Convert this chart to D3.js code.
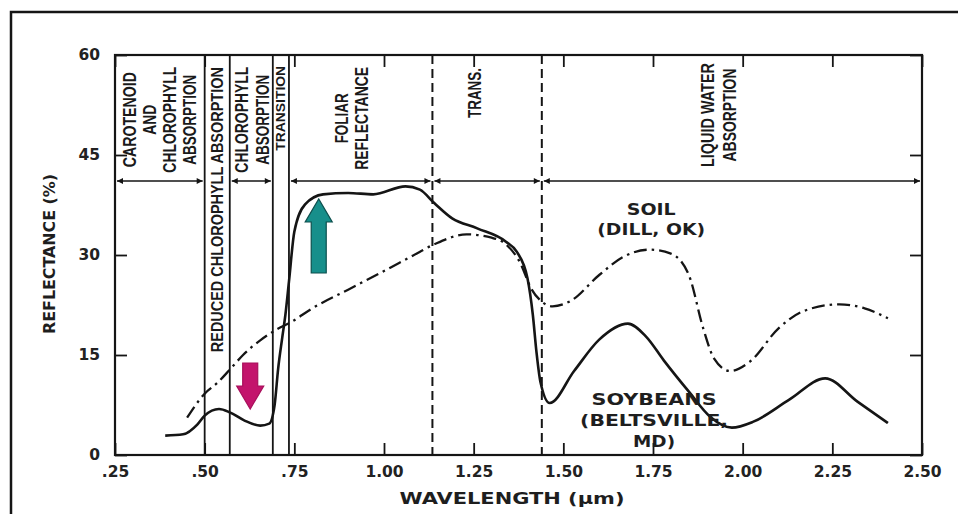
<!DOCTYPE html>
<html>
<head>
<meta charset="utf-8">
<script src="https://d3js.org/d3.v7.min.js"></script>
<style>
  body { margin: 0; background: #fff; }
  svg { display: block; }
</style>
</head>
<body>
<div id="chart"></div>
<script>
// values
const wavelengthTicks = [0.25, 0.50, 0.75, 1.00, 1.25, 1.50, 1.75, 2.00, 2.25, 2.50];
const wavelengthLabels = [".25", ".50", ".75", "1.00", "1.25", "1.50", "1.75", "2.00", "2.25", "2.50"];
const reflectanceTicks = [0, 15, 30, 45, 60];

// soybeans (Beltsville, MD) - [wavelength um, reflectance %]
const soybean = [
  [0.39, 2.9], [0.44, 3.1], [0.48, 4.6], [0.50, 5.9], [0.54, 6.9], [0.57, 6.4],
  [0.61, 5.2], [0.655, 4.4], [0.68, 4.7], [0.695, 7.5], [0.705, 13], [0.716, 17.5],
  [0.725, 21], [0.735, 26], [0.75, 33.5], [0.78, 37.6], [0.83, 39.1], [0.90, 39.3],
  [0.97, 39.1], [1.06, 40.3], [1.10, 39.8], [1.14, 37.8], [1.19, 35.5], [1.26, 34.0],
  [1.34, 32.0], [1.37, 30.5], [1.40, 26.5], [1.415, 21], [1.425, 15.5], [1.436, 11],
  [1.462, 7.8], [1.53, 12.6], [1.60, 17.3], [1.68, 19.7], [1.73, 17.8], [1.78, 14.2],
  [1.85, 9.5], [1.91, 5.7], [1.97, 4.1], [2.03, 5.0], [2.13, 8.3], [2.23, 11.5],
  [2.32, 8.0], [2.405, 4.8]
];

// soil (Dill, OK)
const soil = [
  [0.451, 5.6], [0.50, 9.2], [0.535, 10.8], [0.57, 12.8], [0.607, 15.0], [0.655, 17.2],
  [0.70, 18.8], [0.74, 19.9], [0.80, 22.0], [0.90, 24.8], [1.00, 27.6], [1.08, 29.9],
  [1.14, 31.6], [1.23, 33.1], [1.30, 32.6], [1.34, 31.6], [1.38, 28.8], [1.41, 25.0],
  [1.44, 23.0], [1.47, 22.3], [1.52, 23.1], [1.60, 27.0], [1.67, 29.8], [1.74, 30.8],
  [1.80, 30.2], [1.85, 27.0], [1.89, 19.0], [1.92, 14.5], [1.965, 12.6], [2.02, 14.0],
  [2.10, 19.0], [2.17, 21.6], [2.27, 22.6], [2.34, 22.0], [2.405, 20.5]
];

// spectral regions
const solidBounds = [0.50, 0.57, 0.69, 0.735];
const dashedBounds = [1.135, 1.44];
const spanArrows = [[0.25, 0.50], [0.57, 0.69], [0.735, 1.135], [1.135, 1.44], [1.44, 2.50]];
const spanArrowLevel = 41.1;
const regionTexts = [
  ["CAROTENOID", "AND", "CHLOROPHYLL", "ABSORPTION"],
  ["REDUCED CHLOROPHYLL ABSORPTION"],
  ["CHLOROPHYLL", "ABSORPTION"],
  ["TRANSITION"],
  ["FOLIAR", "REFLECTANCE"],
  ["TRANS."],
  ["LIQUID WATER", "ABSORPTION"]
];
const seriesNames = [["SOIL", "(DILL, OK)"], ["SOYBEANS", "(BELTSVILLE,", "MD)"]];

// coloured arrows: [wavelength, from %, to %]
const downArrow = [0.627, 13.8, 6.9];
const upArrow = [0.818, 27.3, 38.4];

// ---- layout ----
const W = 958, H = 514;
const margin = { top: 55, right: 36, bottom: 59, left: 115 };
const width = W - margin.left - margin.right;
const height = H - margin.top - margin.bottom;

const x = d3.scaleLinear().domain([0.25, 2.50]).range([0, width]);
const y = d3.scaleLinear().domain([0, 60]).range([height, 0]);

const ink = "#151515";
const tickFont = "'DejaVu Sans', Verdana, sans-serif";
const narrowFont = "'Liberation Sans Narrow', 'Liberation Sans', Arial, sans-serif";

const svg = d3.select("#chart").append("svg")
  .attr("width", W)
  .attr("height", H);

// outer frame (top and left edges only)
svg.append("path")
  .attr("d", `M11,${H} V12 H${W}`)
  .attr("fill", "none")
  .attr("stroke", ink)
  .attr("stroke-width", 2.5);

svg.append("defs").append("marker")
  .attr("id", "head")
  .attr("viewBox", "0 0 10 10")
  .attr("refX", 10).attr("refY", 5)
  .attr("markerWidth", 9).attr("markerHeight", 6)
  .attr("markerUnits", "userSpaceOnUse")
  .attr("orient", "auto-start-reverse")
  .append("path")
  .attr("d", "M0,0 L10,5 L0,10 Z")
  .attr("fill", ink);

const g = svg.append("g")
  .attr("transform", `translate(${margin.left},${margin.top})`);

// axes with inward ticks
g.append("g")
  .attr("transform", `translate(0,${height})`)
  .call(d3.axisBottom(x).tickValues(wavelengthTicks)
    .tickFormat((d, i) => wavelengthLabels[i]).tickSize(-12).tickSizeOuter(0).tickPadding(11))
  .call(a => a.select(".domain").remove());

g.append("g")
  .call(d3.axisTop(x).tickValues(wavelengthTicks).tickFormat("").tickSize(-12).tickSizeOuter(0))
  .call(a => a.select(".domain").remove());

g.append("g")
  .call(d3.axisLeft(y).tickValues(reflectanceTicks).tickSize(-12).tickSizeOuter(0).tickPadding(15))
  .call(a => a.select(".domain").remove());

g.append("g")
  .attr("transform", `translate(${width},0)`)
  .call(d3.axisRight(y).tickValues(reflectanceTicks).tickFormat("").tickSize(-12).tickSizeOuter(0))
  .call(a => a.select(".domain").remove());

g.selectAll(".tick line").attr("stroke", ink).attr("stroke-width", 1.8);
g.selectAll(".tick text")
  .attr("fill", "#222")
  .style("font-family", tickFont)
  .style("font-weight", "bold")
  .style("font-size", "15.5px");

// plot frame
g.append("rect")
  .attr("width", width).attr("height", height)
  .attr("fill", "none")
  .attr("stroke", ink)
  .attr("stroke-width", 2.2);

// region boundaries
g.selectAll(".bound")
  .data(solidBounds)
  .join("line")
  .attr("class", "bound")
  .attr("x1", d => x(d)).attr("x2", d => x(d))
  .attr("y1", 0).attr("y2", height)
  .attr("stroke", ink).attr("stroke-width", 1.8);

g.selectAll(".dbound")
  .data(dashedBounds)
  .join("line")
  .attr("class", "dbound")
  .attr("x1", d => x(d)).attr("x2", d => x(d))
  .attr("y1", 0).attr("y2", height)
  .attr("stroke", ink).attr("stroke-width", 2)
  .attr("stroke-dasharray", "9,5");

// double-headed span arrows
g.selectAll(".span")
  .data(spanArrows)
  .join("line")
  .attr("class", "span")
  .attr("x1", d => x(d[0]) + 2).attr("x2", d => x(d[1]) - 2)
  .attr("y1", y(spanArrowLevel)).attr("y2", y(spanArrowLevel))
  .attr("stroke", ink).attr("stroke-width", 1.6)
  .attr("marker-start", "url(#head)")
  .attr("marker-end", "url(#head)");

// rotated region names
const labelLayout = [
  { at: 0.376, mid: 50.3, gap: 20, size: 18, len: [95, 30, 106, 90] },
  { at: 0.535, mid: 36.8, gap: 20, size: 16, len: [285] },
  { at: 0.634, mid: 50.3, gap: 21, size: 18, len: [106, 90] },
  { at: 0.7125, mid: 52.0, gap: 20, size: 13, len: [85] },
  { at: 0.912, mid: 50.5, gap: 20, size: 18, len: [50, 103] },
  { at: 1.255, mid: 54.3, gap: 20, size: 18, len: [50] },
  { at: 1.935, mid: 51.0, gap: 22, size: 18, len: [104, 93] }
];

regionTexts.forEach((lines, i) => {
  const L = labelLayout[i];
  const cx = x(L.at), cy = y(L.mid);
  lines.forEach((t, j) => {
    const off = (j - (lines.length - 1) / 2) * L.gap;
    g.append("text")
      .attr("transform", `translate(${cx + off},${cy}) rotate(-90)`)
      .attr("text-anchor", "middle")
      .attr("dominant-baseline", "central")
      .attr("textLength", L.len[j])
      .attr("lengthAdjust", "spacingAndGlyphs")
      .attr("fill", "#1a1a1a")
      .style("font-family", narrowFont)
      .style("font-weight", "bold")
      .style("font-size", L.size + "px")
      .text(t);
  });
});

// curves
const line = d3.line()
  .x(d => x(d[0]))
  .y(d => y(d[1]))
  .curve(d3.curveMonotoneX);

g.append("path")
  .datum(soil)
  .attr("d", line)
  .attr("fill", "none")
  .attr("stroke", ink)
  .attr("stroke-width", 2.3)
  .attr("stroke-dasharray", "13,5,2.5,5");

g.append("path")
  .datum(soybean)
  .attr("d", line)
  .attr("fill", "none")
  .attr("stroke", ink)
  .attr("stroke-width", 2.6)
  .attr("stroke-linejoin", "round");

// series names
const nameLayout = [
  { at: 1.745, top: 36.9, step: 3.0, len: [49, 108] },
  { at: 1.753, top: 8.3, step: 3.15, len: [125, 148, 42] }
];
seriesNames.forEach((lines, i) => {
  const L = nameLayout[i];
  lines.forEach((t, j) => {
    g.append("text")
      .attr("x", x(L.at))
      .attr("y", y(L.top - j * L.step))
      .attr("text-anchor", "middle")
      .attr("dominant-baseline", "central")
      .attr("textLength", L.len[j])
      .attr("lengthAdjust", "spacingAndGlyphs")
      .attr("fill", "#1e1e1e")
      .style("font-family", tickFont)
      .style("font-weight", "bold")
      .style("font-size", "16.5px")
      .text(t);
  });
});

// block arrows
function blockArrow(a, fill, edge) {
  const cx = x(a[0]);
  const y0 = y(a[1]), y1 = y(a[2]);
  const dir = y1 > y0 ? 1 : -1;
  const headLen = 23, half = 13.5, shaft = 7.5;
  const yb = y1 - dir * headLen;
  const pts = [
    [cx - shaft, y0], [cx + shaft, y0], [cx + shaft, yb], [cx + half, yb],
    [cx, y1], [cx - half, yb], [cx - shaft, yb]
  ];
  g.append("path")
    .attr("d", "M" + pts.map(p => p.join(",")).join("L") + "Z")
    .attr("fill", fill)
    .attr("stroke", edge)
    .attr("stroke-width", 1.2);
}
blockArrow(downArrow, "#c3146c", "#a80f5b");
blockArrow(upArrow, "#178f8b", "#0d4f4d");

// axis titles
svg.append("text")
  .attr("transform", `translate(49,254) rotate(-90)`)
  .attr("text-anchor", "middle")
  .attr("dominant-baseline", "central")
  .attr("textLength", 160)
  .attr("lengthAdjust", "spacingAndGlyphs")
  .attr("fill", "#1e1e1e")
  .style("font-family", tickFont)
  .style("font-weight", "bold")
  .style("font-size", "16px")
  .text("REFLECTANCE (%)");

svg.append("text")
  .attr("x", 512)
  .attr("y", 498)
  .attr("text-anchor", "middle")
  .attr("dominant-baseline", "central")
  .attr("textLength", 225)
  .attr("lengthAdjust", "spacingAndGlyphs")
  .attr("fill", "#1e1e1e")
  .style("font-family", tickFont)
  .style("font-weight", "bold")
  .style("font-size", "16px")
  .text("WAVELENGTH (\u03BCm)");
</script>
</body>
</html>
